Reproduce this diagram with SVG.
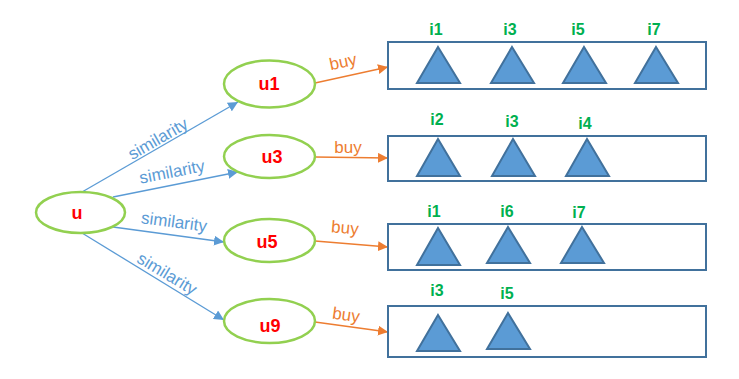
<svg xmlns="http://www.w3.org/2000/svg" width="739" height="379" viewBox="0 0 739 379">
<defs>
<marker id="ab" viewBox="0 0 10 10" refX="10" refY="5" markerWidth="10" markerHeight="10" markerUnits="userSpaceOnUse" orient="auto"><path d="M0,0 L10,5 L0,10 z" fill="#5B9BD5"/></marker>
<marker id="ao" viewBox="0 0 10 10" refX="10" refY="5" markerWidth="10" markerHeight="10" markerUnits="userSpaceOnUse" orient="auto"><path d="M0,0 L10,5 L0,10 z" fill="#ED7D31"/></marker>
</defs>
<style>
.node{fill:#fff;stroke:#92D050;stroke-width:2.5}
.nl{font-family:"Liberation Sans",Arial,sans-serif;font-weight:bold;font-size:18px;fill:#FF0000;text-anchor:middle;dominant-baseline:central}
.sim{stroke:#5B9BD5;stroke-width:1.3;fill:none;marker-end:url(#ab)}
.buy{stroke:#ED7D31;stroke-width:1.3;fill:none;marker-end:url(#ao)}
.st{font-family:"Liberation Sans",Arial,sans-serif;font-size:17px;fill:#5B9BD5;text-anchor:middle;dominant-baseline:central}
.bt{font-family:"Liberation Sans",Arial,sans-serif;font-size:17px;fill:#ED7D31;text-anchor:middle;dominant-baseline:central}
.box{fill:#fff;stroke:#41719C;stroke-width:2}
.tri{fill:#5B9BD5;stroke:#41719C;stroke-width:2}
.il{font-family:"Liberation Sans",Arial,sans-serif;font-weight:bold;font-size:16px;fill:#00B050;text-anchor:middle;dominant-baseline:central}
</style>
<rect width="739" height="379" fill="#fff"/>
<g id="connectors">
<line class="sim" x1="82" y1="192" x2="238" y2="102"/>
<line class="sim" x1="113" y1="197" x2="238" y2="172"/>
<line class="sim" x1="113" y1="227" x2="224" y2="242"/>
<line class="sim" x1="82" y1="233" x2="224" y2="320"/>
<text class="st" transform="translate(158,139) rotate(-30)">similarity</text>
<text class="st" transform="translate(172,172) rotate(-11)">similarity</text>
<text class="st" transform="translate(174,222) rotate(7.5)">similarity</text>
<text class="st" transform="translate(167,274) rotate(31)">similarity</text>
<line class="buy" x1="315" y1="83" x2="388" y2="67"/>
<line class="buy" x1="315" y1="157" x2="388" y2="158"/>
<line class="buy" x1="315" y1="241" x2="388" y2="247"/>
<line class="buy" x1="315" y1="322" x2="388" y2="332"/>
<text class="bt" transform="translate(343,62) rotate(-12)">buy</text>
<text class="bt" transform="translate(348,147)">buy</text>
<text class="bt" transform="translate(345,228) rotate(5)">buy</text>
<text class="bt" transform="translate(346,315) rotate(8)">buy</text>
</g>
<g id="u"><ellipse class="node" cx="80.5" cy="212.5" rx="44.5" ry="20.5"/><text class="nl" x="77" y="213">u</text></g>
<g id="u1"><ellipse class="node" cx="269.5" cy="84" rx="45.5" ry="23.5"/><text class="nl" x="269" y="84">u1</text></g>
<g id="u3"><ellipse class="node" cx="269.5" cy="156.5" rx="45.5" ry="21.5"/><text class="nl" x="272" y="157">u3</text></g>
<g id="u5"><ellipse class="node" cx="269.5" cy="240.5" rx="45.5" ry="21.5"/><text class="nl" x="267" y="242">u5</text></g>
<g id="u9"><ellipse class="node" cx="269.5" cy="321" rx="45.5" ry="22"/><text class="nl" x="270" y="326">u9</text></g>
<g id="box1">
<rect class="box" x="388" y="42" width="318" height="47"/>
<polygon class="tri" points="438,47 460,83 417,83"/>
<polygon class="tri" points="512,47 534,83 491,83"/>
<polygon class="tri" points="584,47 606,83 563,83"/>
<polygon class="tri" points="656,47 678,83 635,83"/>
<text class="il" x="436" y="29">i1</text>
<text class="il" x="510" y="29">i3</text>
<text class="il" x="578" y="29">i5</text>
<text class="il" x="654" y="29">i7</text>
</g>
<g id="box2">
<rect class="box" x="388" y="136" width="318" height="45"/>
<polygon class="tri" points="438,139 460,176 417,176"/>
<polygon class="tri" points="513,139 535,176 492,176"/>
<polygon class="tri" points="587,139 609,176 566,176"/>
<text class="il" x="437" y="119">i2</text>
<text class="il" x="512" y="121">i3</text>
<text class="il" x="585" y="123">i4</text>
</g>
<g id="box3">
<rect class="box" x="388" y="224" width="318" height="46"/>
<polygon class="tri" points="438,228 460,265 417,265"/>
<polygon class="tri" points="508,227 530,263 487,263"/>
<polygon class="tri" points="582,227 604,263 561,263"/>
<text class="il" x="434" y="211">i1</text>
<text class="il" x="507" y="211">i6</text>
<text class="il" x="579" y="212">i7</text>
</g>
<g id="box4">
<rect class="box" x="388" y="306" width="318" height="51"/>
<polygon class="tri" points="438,315 460,351 417,351"/>
<polygon class="tri" points="508,313 530,349 487,349"/>
<text class="il" x="437" y="290">i3</text>
<text class="il" x="507" y="293">i5</text>
</g>
</svg>
